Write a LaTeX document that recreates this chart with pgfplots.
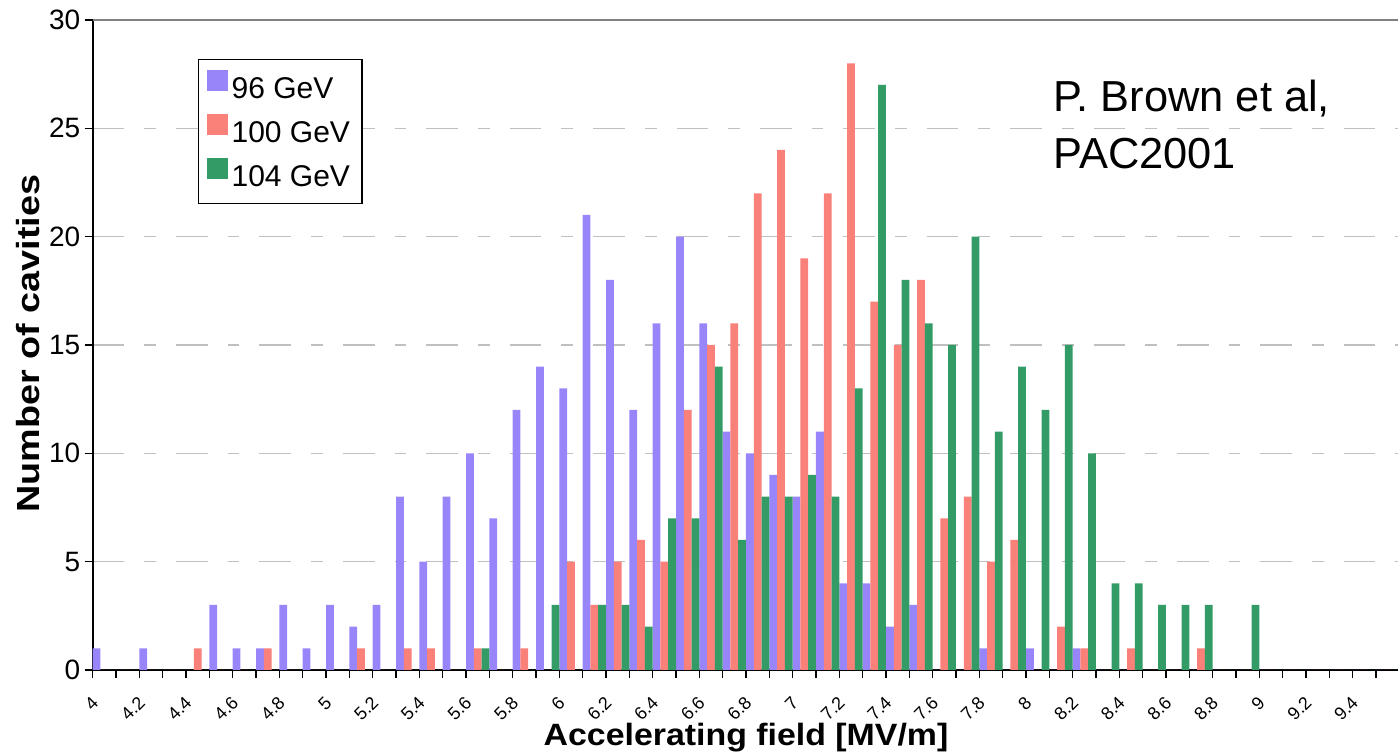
\documentclass[border=0pt]{standalone}
\usepackage{fontspec}
\setmainfont{Liberation Sans}
\newfontfamily\xlabfont[FakeStretch=1.10]{Liberation Sans}
\newfontfamily\ylabfont[FakeStretch=1.18]{Liberation Sans}
\usepackage{pgfplots}
\pgfplotsset{compat=1.18}
\usepackage{pgfplotstable}

\definecolor{gev96}{RGB}{153,133,250}
\definecolor{gev100}{RGB}{250,128,122}
\definecolor{gev104}{RGB}{51,155,102}
\definecolor{gridgray}{RGB}{192,192,192}
\definecolor{framegray}{RGB}{128,128,128}

% number of cavities per 0.1 MV/m bin: b = 96 GeV, r = 100 GeV, g = 104 GeV
\pgfplotstableread{
x   b  r  g
4.0 1  0  0
4.1 0  0  0
4.2 1  0  0
4.3 0  0  0
4.4 0  1  0
4.5 3  0  0
4.6 1  0  0
4.7 1  1  0
4.8 3  0  0
4.9 1  0  0
5.0 3  0  0
5.1 2  1  0
5.2 3  0  0
5.3 8  1  0
5.4 5  1  0
5.5 8  0  0
5.6 10 1  1
5.7 7  0  0
5.8 12 1  0
5.9 14 0  3
6.0 13 5  0
6.1 21 3  3
6.2 18 5  3
6.3 12 6  2
6.4 16 5  7
6.5 20 12 7
6.6 16 15 14
6.7 11 16 6
6.8 10 22 8
6.9 9  24 8
7.0 8  19 9
7.1 11 22 8
7.2 4  28 13
7.3 4  17 27
7.4 2  15 18
7.5 3  18 16
7.6 0  7  15
7.7 0  8  20
7.8 1  5  11
7.9 0  6  14
8.0 1  0  12
8.1 0  2  15
8.2 1  1  10
8.3 0  0  4
8.4 0  1  4
8.5 0  0  3
8.6 0  0  3
8.7 0  1  3
8.8 0  0  0
8.9 0  0  3
9.0 0  0  0
9.1 0  0  0
9.2 0  0  0
9.3 0  0  0
9.4 0  0  0
9.5 0  0  0
}\cavities

\begin{document}
\begin{tikzpicture}
\begin{axis}[
  scale only axis,
  width=653.3pt, height=325pt,
  xmin=4, xmax=9.6, ymin=0, ymax=30,
  axis x line=bottom, axis y line=left,
  axis line style={-, black, line width=1pt},
  xtick={4,4.2,...,9.41},
  minor xtick={4.1,4.3,...,9.51},
  ytick={0,5,...,30},
  tick align=outside,
  major tick length=4pt, minor tick length=4pt,
  every tick/.style={black, line width=0.8pt},
  /pgf/number format/assume math mode=true,
  xticklabel={\pgfmathprintnumber[fixed,precision=1]{\tick}},
  xticklabel style={xshift=2pt, yshift=-10pt, rotate=45, anchor=east,
    inner sep=1pt, font=\fontsize{9}{10}\selectfont},
  yticklabel style={font=\fontsize{14}{16}\selectfont, inner sep=2pt},
  ymajorgrids,
  grid style={gridgray, line width=0.75pt,
    dash pattern=on 15.85pt off 10pt on 5.85pt off 10pt},
  xlabel={Accelerating field [MV/m]},
  xlabel style={at={(axis description cs:0.5,0)}, anchor=center, yshift=-34pt,
    font=\xlabfont\bfseries\fontsize{15.4}{18}\selectfont},
  ylabel={Number of cavities},
  ylabel style={at={(axis description cs:-0.0495,0.502)}, anchor=center,
    font=\ylabfont\bfseries\fontsize{16}{18}\selectfont},
  legend style={at={(0.0806,0.94)}, anchor=north west, draw=black,
    line width=0.6pt, fill=white, row sep=4pt, inner xsep=4pt, inner ysep=5pt,
    font=\fontsize{15}{18}\selectfont, cells={anchor=west}},
  legend image code/.code={\fill[#1] (1pt,-0.5pt) rectangle (11.5pt,10pt);},
]
\addplot[ybar, bar width=3.889pt, bar shift=1.944pt, fill=gev96, draw=none]
  table[x=x, y=b] {\cavities};
\addplot[ybar, bar width=3.889pt, bar shift=5.833pt, fill=gev100, draw=none]
  table[x=x, y=r] {\cavities};
\addplot[ybar, bar width=3.889pt, bar shift=9.722pt, fill=gev104, draw=none]
  table[x=x, y=g] {\cavities};
\legend{96 GeV, 100 GeV, 104 GeV}
\draw[framegray, line width=1.5pt] (rel axis cs:0,1) -- (rel axis cs:1,1);
\node[anchor=north west, align=left, inner sep=0pt,
  font=\fontsize{21.7}{28.5}\selectfont] at (rel axis cs:0.735,0.9077)
  {P. Brown et al,\\PAC2001};
\end{axis}
\pgfresetboundingbox
\path[use as bounding box] (-46.35pt,-42pt) rectangle (652.65pt,335pt);
\end{tikzpicture}
\end{document}
